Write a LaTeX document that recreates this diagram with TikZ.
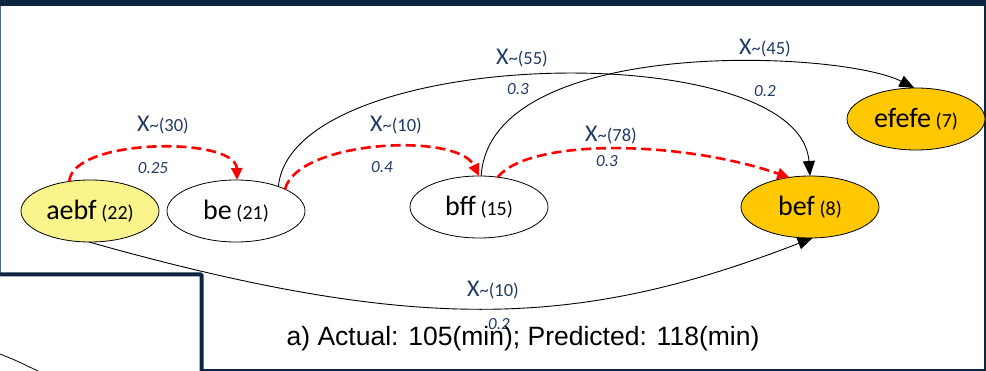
\documentclass[tikz,border=0pt]{standalone}
\usepackage{fontspec}
\setmainfont{Carlito}
\newfontfamily\arialf{Liberation Sans}
\usetikzlibrary{shapes.geometric,arrows.meta}
\definecolor{navy}{HTML}{0D2540}
\definecolor{leftgray}{HTML}{4F6A8A}
\definecolor{labblue}{HTML}{1F3B63}
\definecolor{yel}{HTML}{FAF48C}
\definecolor{gold}{HTML}{FFC800}
\newcommand{\bigX}{{\fontsize{24}{24}\selectfont X}}
\newcommand{\lbl}[1]{\bigX{\fontsize{18.5}{18.5}\selectfont\textasciitilde(#1)}}
\newcommand{\cnt}[1]{{\fontsize{20}{20}\selectfont(#1)}}
\tikzset{
  nd/.style={ellipse, draw, line width=0.8pt, minimum width=138pt, minimum height=62pt,
    inner sep=0pt, outer sep=0pt, font=\fontsize{28}{28}\selectfont},
  lab/.style={text=labblue, inner sep=0pt, anchor=base},
  prob/.style={text=labblue, inner sep=0pt, anchor=base, font=\fontsize{17}{17}\selectfont\itshape},
  redarc/.style={draw=red, line width=2.6pt, dash pattern=on 10pt off 5pt,
    -{Triangle[length=12pt,width=11pt]}},
  blkarc/.style={draw=black, line width=0.9pt, -{Triangle[length=15pt,width=12pt]}},
  frame/.style={draw=navy}
}
\begin{document}
\begin{tikzpicture}[x=1pt,y=-1pt]
\useasboundingbox (0,0) rectangle (986,371);
% frame
\fill[navy] (0,0) rectangle (986,6);
\draw[leftgray, line width=1.2pt] (0.6,6) -- (0.6,273);
\draw[frame, line width=2pt] (985,0) -- (985,371);
\draw[frame, line width=2.5pt] (200,370) -- (986,370);
\draw[frame, line width=4pt, rounded corners=1pt] (0,274.5) -- (201.5,274.5) -- (201.5,371);
\draw[line width=0.8pt] (0,354) .. controls (15,360) .. (38,371);
% nodes
\node[nd, fill=yel] (aebf) at (90,211) {aebf\,\cnt{22}};
\node[nd, fill=white] (be) at (236,211) {be\,\cnt{21}};
\node[nd, fill=white] (bff) at (479,207) {bff\,\cnt{15}};
\node[nd, fill=gold] (bef) at (810,207) {bef\,\cnt{8}};
\node[nd, fill=gold] (efefe) at (916,119) {efefe\,\cnt{7}};
% edges
\draw[redarc] (aebf.125) .. controls (72,138) and (236,136) .. (be.88);
\draw[redarc] (be.24) .. controls (298,140) and (458,132) .. (bff.90);
\draw[redarc] (bff.58) .. controls (530,138) and (680,140) .. (bef.125);
\draw[blkarc] (be.30) .. controls (292,45) and (800,35) .. (bef.90);
\draw[blkarc] (bff.86) .. controls (490,35) and (840,50) .. (efefe.93);
\draw[blkarc] (aebf.268) .. controls (420,335) and (580,328) .. (bef.275);
% labels
\node[lab] (l1) at (163,132) {\lbl{30}};
\node[prob] (p1) at (153,174) {0.25};
\node[lab] (l2) at (396,132) {\lbl{10}};
\node[prob] (p2) at (382,173) {0.4};
\node[lab] (l3) at (611,142) {\lbl{78}};
\node[prob] (p3) at (607,167) {0.3};
\node[lab] (l4) at (522,65) {\lbl{55}};
\node[prob] (p4) at (518,95) {0.3};
\node[lab] (l5) at (765,55) {\lbl{45}};
\node[prob] (p5) at (765,97) {0.2};
\node[lab] (l6) at (493,297) {\lbl{10}};
\node[prob] (p6) at (499,330) {0.2};
\node[inner sep=0pt, anchor=base, font=\arialf\fontsize{26.5}{26.5}\selectfont] (cap) at (523,346)
  {a) Actual: 105(min); Predicted: 118(min)};
\end{tikzpicture}
\end{document}
